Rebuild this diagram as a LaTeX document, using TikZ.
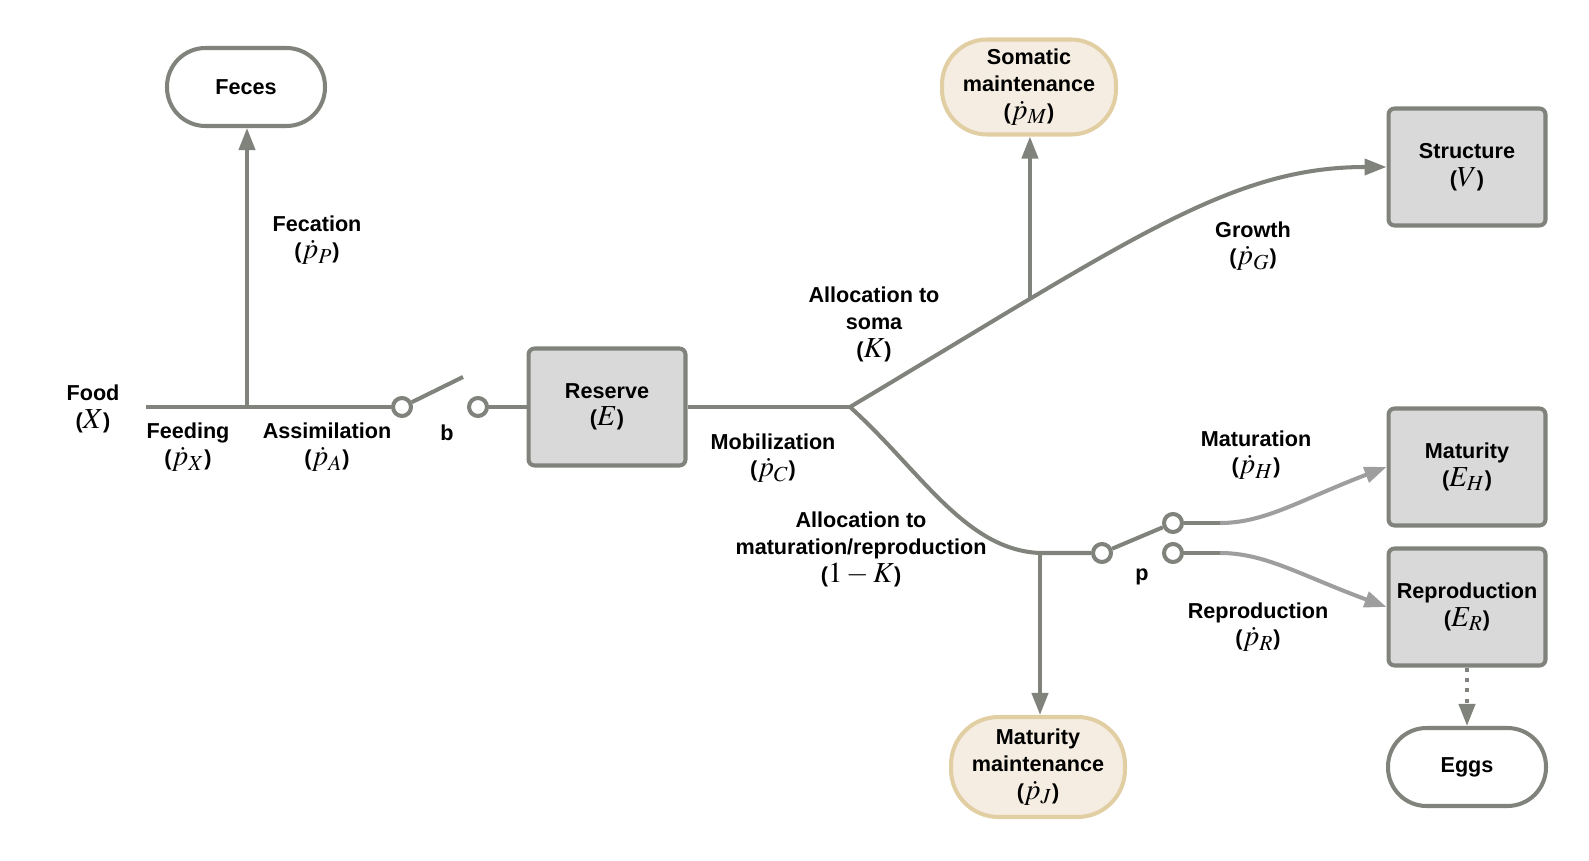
\documentclass[tikz,border=0pt]{standalone}
\usepackage{mathptmx}
\usepackage{fontspec}
\setsansfont{Liberation Sans}
\usetikzlibrary{arrows.meta}

\definecolor{linegray}{RGB}{128,130,124}
\definecolor{lightflow}{RGB}{158,158,158}
\definecolor{boxfill}{RGB}{217,217,217}
\definecolor{beigefill}{RGB}{245,237,225}
\definecolor{beigedraw}{RGB}{226,206,163}

\newcommand{\lblfont}{\fontsize{12.3}{15.7}\selectfont\sffamily\bfseries}
\newcommand{\mth}[1]{{\fontsize{16.5}{15.7}\selectfont$#1$}}

\tikzset{
	flow/.style={draw=linegray, line width=2.3pt},
	arr/.style={flow, -{Triangle[length=0.44cm, width=0.32cm]}},
	lightarr/.style={draw=lightflow, line width=2.3pt, -{Triangle[length=0.44cm, width=0.32cm]}},
	dotarr/.style={arr, dash pattern=on 2.3pt off 3.6pt},
	pool/.style={draw=linegray, line width=2.3pt, fill=boxfill, rounded corners=0.12cm,
		minimum width=3.14cm, minimum height=2.34cm, align=center, font=\lblfont},
	capsule/.style={draw=linegray, line width=2.3pt, fill=white, rounded corners=0.77cm,
		minimum width=3.16cm, minimum height=1.56cm, align=center, font=\lblfont},
	upkeep/.style={capsule, draw=beigedraw, fill=beigefill, rounded corners=0.9cm,
		minimum width=3.48cm, minimum height=1.9cm},
	lbl/.style={align=center, font=\lblfont},
	switch/.style={circle, draw=linegray, line width=2.3pt, fill=white, minimum size=0.36cm, inner sep=0pt},
}

\begin{document}
\begin{tikzpicture}[x=0.02cm, y=-0.02cm]
		\useasboundingbox (0, 0) rectangle (1589, 861);

		% pools and sinks
		\node[capsule] (feces) at (246, 87) {Feces};
		\node[upkeep] (somatic) at (1029, 87) {Somatic\\maintenance\\(\mth{\dot{p}_M})};
		\node[pool] (structure) at (1467, 167) {Structure\\(\mth{V})};
		\node[pool] (reserve) at (607, 407) {Reserve\\(\mth{E})};
		\node[pool] (maturity) at (1467, 467) {Maturity\\(\mth{E_H})};
		\node[pool] (reproduction) at (1467, 607) {Reproduction\\(\mth{E_R})};
		\node[capsule] (eggs) at (1467, 767) {Eggs};
		\node[upkeep, minimum height=2cm, rounded corners=0.95cm] (matmaint) at (1038, 767) {Maturity\\maintenance\\(\mth{\dot{p}_J})};

		% switches
		\node[switch] (b1) at (402, 407) {};
		\node[switch] (b2) at (478, 407) {};
		\node[switch] (p1) at (1102, 553) {};
		\node[switch] (p2) at (1173, 523) {};
		\node[switch] (p3) at (1173, 553) {};

		\coordinate (food) at (146, 407);
		\coordinate (fecjoin) at (247, 407);
		\coordinate (blever) at (463, 377);
		\coordinate (fork) at (850, 407);
		\coordinate (matjoin) at (1040, 553);
		\coordinate (mbend) at (1220, 523);
		\coordinate (rbend) at (1220, 553);

		% fluxes
		\draw[flow] (food) -- (b1);
		\draw[arr] (fecjoin) -- (fecjoin |- feces.south);
		\draw[flow] (b1) -- (blever);
		\draw[flow] (b2) -- (reserve);
		\draw[flow] (reserve) -- (fork);
		\draw[arr] (fork) .. controls (1130, 240) and (1230, 167) .. (structure.west) coordinate[pos=0.25] (somjoin);
		\draw[arr] (somjoin) -- (somjoin |- somatic.south);
		\draw[flow] (fork) .. controls (920, 470) and (965, 550) .. (matjoin) -- (p1);
		\draw[arr] (matjoin) -- (matjoin |- matmaint.north);
		\draw[flow] (p1) -- (p2);
		\draw[flow] (p2) -- (mbend);
		\draw[lightarr] (mbend) .. controls (1265, 523) and (1300, 500) .. (maturity.west);
		\draw[flow] (p3) -- (rbend);
		\draw[lightarr] (rbend) .. controls (1265, 553) and (1300, 575) .. (reproduction.west);
		\draw[dotarr] (reproduction) -- (eggs);

		% labels
		\node[lbl] (foodlbl) at (93, 409) {Food\\(\mth{X})};
		\node[lbl] (feedlbl) at (188, 447) {Feeding\\(\mth{\dot{p}_X})};
		\node[lbl] (assimlbl) at (327, 447) {Assimilation\\(\mth{\dot{p}_A})};
		\node[lbl] (feclbl) at (317, 240) {Fecation\\(\mth{\dot{p}_P})};
		\node[lbl] (blbl) at (447, 433) {b};
		\node[lbl] (moblbl) at (773, 458) {Mobilization\\(\mth{\dot{p}_C})};
		\node[lbl] (somalbl) at (874, 324) {Allocation to\\soma\\(\mth{K})};
		\node[lbl] (growlbl) at (1253, 246) {Growth\\(\mth{\dot{p}_G})};
		\node[lbl] (matrlbl) at (861, 549) {Allocation to\\maturation/reproduction\\(\mth{1-K})};
		\node[lbl] (plbl) at (1142, 577) {p};
		\node[lbl] (matlbl) at (1256, 455) {Maturation\\(\mth{\dot{p}_H})};
		\node[lbl] (reprlbl) at (1258, 627) {Reproduction\\(\mth{\dot{p}_R})};
	\end{tikzpicture}
\end{document}
